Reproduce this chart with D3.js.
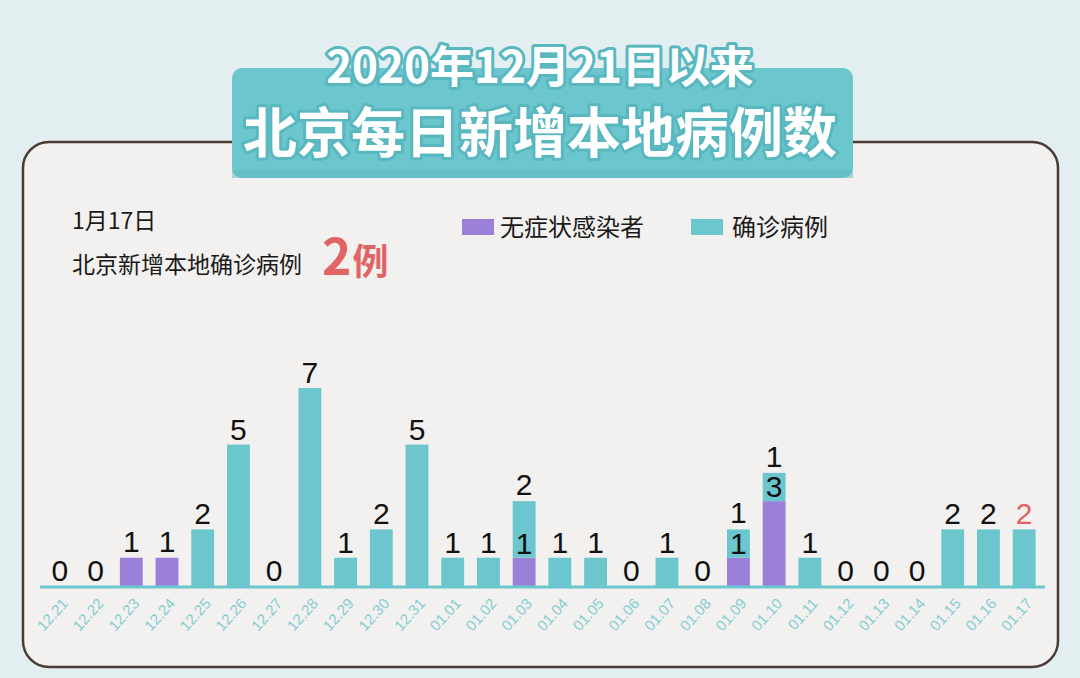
<!DOCTYPE html>
<html><head><meta charset="utf-8">
<script src="https://cdn.jsdelivr.net/npm/d3@7"></script>
<style>
body{margin:0;background:#e3eef0;}
svg{display:block;font-family:"Noto Sans CJK SC","Noto Sans",sans-serif;}
</style></head>
<body><svg id="c" width="1080" height="678"></svg>
<script>
const dates = ["12.21","12.22","12.23","12.24","12.25","12.26","12.27","12.28","12.29","12.30","12.31","01.01","01.02","01.03","01.04","01.05","01.06","01.07","01.08","01.09","01.10","01.11","01.12","01.13","01.14","01.15","01.16","01.17"];
const asymptomatic = [0,0,1,1,0,0,0,0,0,0,0,0,0,1,0,0,0,0,0,1,3,0,0,0,0,0,0,0];
const confirmed    = [0,0,0,0,2,5,0,7,1,2,5,1,1,2,1,1,0,1,0,1,1,1,0,0,0,2,2,2];
const seriesNames = ["无症状感染者","确诊病例"];
const titleLines = ["2020年12月21日以来","北京每日新增本地病例数"];
const noteDate = "1月17日";
const noteText = "北京新增本地确诊病例";
const noteValue = "2";
const noteUnit = "例";

const cyan = "#6cc6cd", purple = "#9b80d9", red = "#e06464";
const svg = d3.select("#c");

// background
svg.append("rect").attr("width",1080).attr("height",678).attr("fill","#e3eef0");
// panel
svg.append("rect").attr("x",23).attr("y",142).attr("width",1035).attr("height",525)
  .attr("rx",26).attr("fill","#f2f1ef").attr("stroke","#4a3b33").attr("stroke-width",2.5);

// title box
svg.append("rect").attr("x",232).attr("y",68).attr("width",621).attr("height",110)
  .attr("rx",10).attr("fill","#6cc6cd");
svg.append("rect").attr("x",232).attr("y",170).attr("width",621).attr("height",8)
  .attr("fill","#5db8bf").attr("opacity",0.5);
const tt = svg.append("g");
tt.append("text").attr("x",540).attr("y",83).attr("text-anchor","middle")
  .attr("font-size",44).attr("font-weight",700).attr("fill","#ffffff")
  .attr("stroke","#58b7bf").attr("stroke-width",6).attr("paint-order","stroke")
  .attr("stroke-linejoin","round").text(titleLines[0]);
tt.append("text").attr("x",540).attr("y",153).attr("text-anchor","middle")
  .attr("font-size",54).attr("font-weight",700).attr("fill","#ffffff")
  .attr("stroke","#58b7bf").attr("stroke-width",6).attr("paint-order","stroke")
  .attr("stroke-linejoin","round").text(titleLines[1]);

// annotation
svg.append("text").attr("x",72).attr("y",229).attr("font-size",23).attr("fill","#1a1a1a").text(noteDate);
svg.append("text").attr("x",72).attr("y",273).attr("font-size",23).attr("fill","#1a1a1a").text(noteText);
const nv = svg.append("text").attr("x",322).attr("y",275).attr("fill",red).attr("font-weight",700);
nv.append("tspan").attr("font-size",50).text(noteValue);
nv.append("tspan").attr("font-size",36).attr("dx",1).text(noteUnit);

// legend
const legend = svg.append("g");
[[purple,462,500],[cyan,691,732]].forEach((d,i)=>{
  legend.append("rect").attr("x",d[1]).attr("y",219).attr("width",32).attr("height",16).attr("fill",d[0]);
  legend.append("text").attr("x",d[2]).attr("y",236).attr("font-size",24).attr("fill","#1a1a1a").text(seriesNames[i]);
});

// scales
const x = d3.scaleBand().domain(dates).range([42,1042]).paddingInner(0.36).paddingOuter(0.18);
const y = d3.scaleLinear().domain([0,7]).range([586,388]);

const g = svg.append("g");
dates.forEach((d,i)=>{
  const a = asymptomatic[i], c = confirmed[i];
  if(a>0) g.append("rect").attr("x",x(d)).attr("width",x.bandwidth()).attr("y",y(a)).attr("height",y(0)-y(a)).attr("fill",purple);
  if(c>0) g.append("rect").attr("x",x(d)).attr("width",x.bandwidth()).attr("y",y(a+c)).attr("height",y(a)-y(a+c)).attr("fill",cyan);
});

// axis line
svg.append("line").attr("x1",40).attr("x2",1045).attr("y1",587).attr("y2",587).attr("stroke",cyan).attr("stroke-width",3);

// value labels
const lab = (cx,yy,t,col)=>g.append("text").attr("x",cx).attr("y",yy).attr("text-anchor","middle")
  .attr("font-size",30).attr("fill",col||"#111").attr("font-family","Liberation Sans, Arial").text(t);
dates.forEach((d,i)=>{
  const a = asymptomatic[i], c = confirmed[i];
  const cx = x(d)+x.bandwidth()/2;
  const isLast = i===dates.length-1;
  if(a>0 && c===0){
    lab(cx,y(a)-6,a);
  } else if(a>0 && c>0){
    lab(cx,y(a)-4,a);
    lab(cx,y(a+c)-6,c);
  } else {
    lab(cx,y(c)-5,c,isLast?red:null);
  }
});

// x axis labels
const xa = svg.append("g").attr("transform","translate(0,590)")
  .call(d3.axisBottom(x).tickSize(0).tickPadding(0));
xa.select(".domain").remove();
xa.selectAll("text").attr("fill","#86cdd2").attr("font-size",15)
  .attr("font-family","Liberation Sans, Arial")
  .attr("text-anchor","end").attr("dy",0)
  .attr("transform","translate(9,14) rotate(-48)");
</script></body></html>
